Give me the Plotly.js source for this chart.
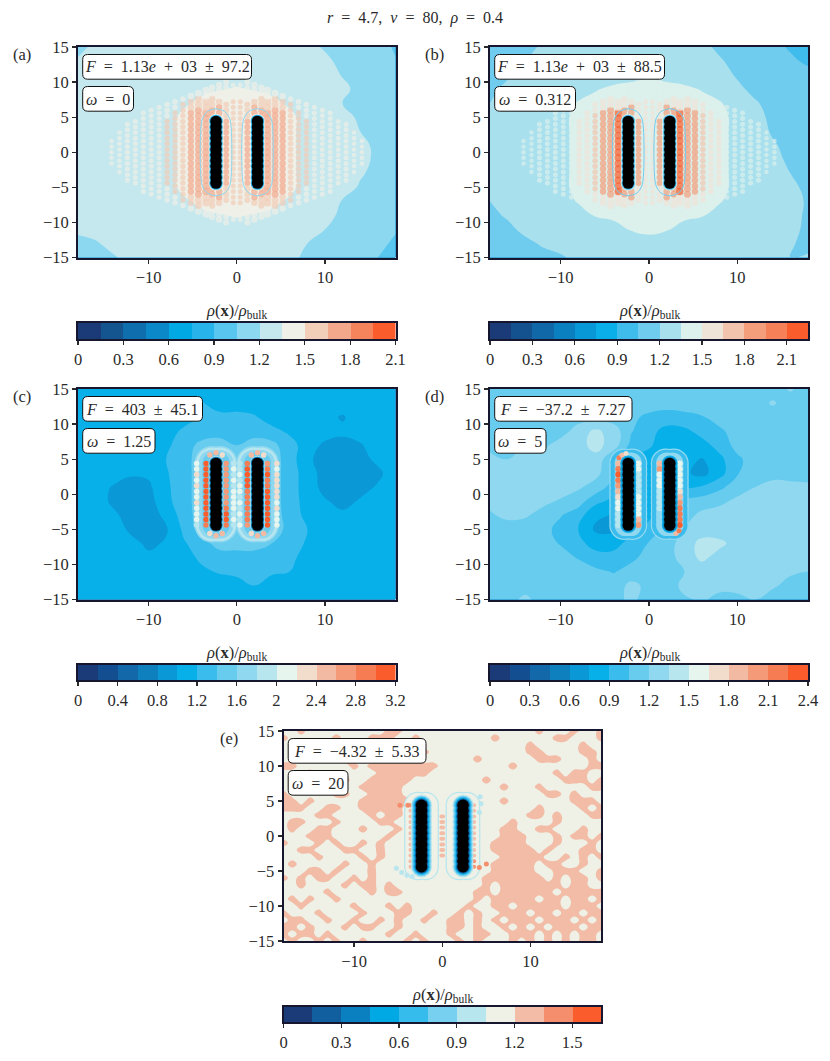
<!DOCTYPE html>
<html>
<head>
<meta charset="utf-8">
<script src="https://cdn.plot.ly/plotly-3.0.1.min.js"></script>
<style>body { margin: 0; background: #fff; }</style>
</head>
<body>
<div id="plot" style="width:830px;height:1061px"></div>
<script>
/////////////////////////////////////////////  data  /////////////////////////////////////////////////////////
var xGrid = [-18,-16,-14,-12,-10,-8,-6,-4,-2,0,2,4,6,8,10,12,14,16,18];
var yGrid = [15,13,11,9,7,5,3,1,-1,-3,-5,-7,-9,-11,-13,-15];
var xGridE = [-18,-17,-16,-15,-14,-13,-12,-11,-10,-9,-8,-7,-6,-5,-4,-3,-2,-1,0,1,2,3,4,5,6,7,8,9,10,11,12,13,14,15,16,17,18];
var yGridE = [15,14,13,12,11,10,9,8,7,6,5,4,3,2,1,0,-1,-2,-3,-4,-5,-6,-7,-8,-9,-10,-11,-12,-13,-14,-15];

var rhoA = [
[1.15,1.24,1.27,1.28,1.28,1.28,1.28,1.28,1.28,1.28,1.28,1.28,1.28,1.25,1.18,1.13,1.13,1.11,1.03],
[1.22,1.27,1.28,1.28,1.28,1.28,1.28,1.28,1.28,1.28,1.28,1.28,1.28,1.28,1.24,1.15,1.13,1.12,1.06],
[1.25,1.28,1.28,1.28,1.28,1.28,1.28,1.28,1.29,1.3,1.29,1.28,1.28,1.28,1.27,1.19,1.13,1.12,1.09],
[1.26,1.28,1.28,1.28,1.28,1.29,1.3,1.32,1.34,1.36,1.34,1.32,1.3,1.29,1.28,1.24,1.15,1.13,1.1],
[1.26,1.28,1.28,1.28,1.28,1.3,1.33,1.38,1.42,1.42,1.42,1.38,1.33,1.3,1.28,1.2,1.15,1.13,1.12],
[1.27,1.28,1.28,1.28,1.29,1.3,1.38,1.44,1.44,1.44,1.44,1.44,1.38,1.3,1.29,1.28,1.16,1.13,1.12],
[1.27,1.28,1.28,1.28,1.29,1.3,1.38,1.44,1.44,1.44,1.44,1.44,1.38,1.3,1.29,1.28,1.2,1.14,1.12],
[1.27,1.28,1.28,1.28,1.29,1.3,1.38,1.44,1.44,1.44,1.44,1.44,1.38,1.3,1.29,1.28,1.27,1.14,1.13],
[1.27,1.28,1.28,1.28,1.29,1.3,1.38,1.44,1.44,1.44,1.44,1.44,1.38,1.3,1.29,1.28,1.27,1.15,1.12],
[1.27,1.28,1.28,1.28,1.29,1.3,1.38,1.44,1.44,1.44,1.44,1.44,1.38,1.3,1.29,1.28,1.22,1.15,1.1],
[1.27,1.28,1.28,1.28,1.29,1.3,1.38,1.44,1.44,1.44,1.44,1.44,1.38,1.3,1.29,1.28,1.18,1.13,1.1],
[1.26,1.28,1.28,1.28,1.28,1.3,1.33,1.38,1.42,1.42,1.42,1.38,1.33,1.3,1.28,1.19,1.14,1.12,1.09],
[1.26,1.28,1.28,1.28,1.28,1.29,1.3,1.32,1.34,1.36,1.34,1.32,1.3,1.29,1.26,1.16,1.13,1.12,1.08],
[1.24,1.27,1.28,1.28,1.28,1.28,1.28,1.28,1.29,1.3,1.29,1.28,1.28,1.27,1.2,1.14,1.12,1.1,1.06],
[1.14,1.18,1.26,1.28,1.28,1.28,1.28,1.28,1.28,1.28,1.28,1.28,1.27,1.2,1.15,1.13,1.1,1.08,1.03],
[1.12,1.14,1.18,1.26,1.28,1.28,1.28,1.28,1.28,1.28,1.28,1.28,1.25,1.16,1.13,1.12,1.09,1.05,1.0]
];
var rhoB = [
[1.12,1.14,1.16,1.22,1.26,1.27,1.28,1.28,1.28,1.28,1.28,1.27,1.25,1.16,1.13,1.12,1.1,1.03,0.98],
[1.13,1.14,1.2,1.26,1.28,1.28,1.28,1.28,1.28,1.28,1.28,1.28,1.26,1.22,1.14,1.12,1.12,1.08,1.02],
[1.14,1.18,1.26,1.28,1.28,1.28,1.28,1.28,1.3,1.32,1.3,1.28,1.28,1.27,1.18,1.13,1.12,1.12,1.1],
[1.16,1.24,1.28,1.28,1.28,1.3,1.34,1.38,1.4,1.42,1.4,1.38,1.34,1.3,1.24,1.15,1.13,1.12,1.12],
[1.2,1.26,1.28,1.28,1.3,1.36,1.4,1.42,1.44,1.44,1.44,1.42,1.4,1.36,1.3,1.22,1.14,1.13,1.12],
[1.26,1.28,1.28,1.28,1.32,1.38,1.42,1.44,1.44,1.44,1.44,1.44,1.42,1.38,1.32,1.26,1.16,1.13,1.12],
[1.27,1.28,1.28,1.28,1.32,1.38,1.42,1.44,1.44,1.44,1.44,1.44,1.42,1.38,1.32,1.28,1.18,1.14,1.12],
[1.27,1.28,1.28,1.28,1.32,1.38,1.42,1.44,1.44,1.44,1.44,1.44,1.42,1.38,1.32,1.28,1.22,1.15,1.13],
[1.26,1.28,1.28,1.28,1.32,1.38,1.42,1.44,1.44,1.44,1.44,1.44,1.42,1.38,1.32,1.28,1.26,1.16,1.14],
[1.26,1.27,1.28,1.28,1.32,1.38,1.42,1.44,1.44,1.44,1.44,1.44,1.42,1.38,1.32,1.28,1.27,1.2,1.15],
[1.24,1.27,1.28,1.28,1.32,1.38,1.42,1.44,1.44,1.44,1.44,1.44,1.42,1.38,1.32,1.28,1.27,1.24,1.16],
[1.2,1.26,1.28,1.28,1.3,1.36,1.4,1.42,1.44,1.44,1.44,1.42,1.4,1.36,1.3,1.28,1.27,1.26,1.18],
[1.16,1.22,1.27,1.28,1.28,1.3,1.36,1.38,1.4,1.42,1.4,1.38,1.36,1.3,1.28,1.28,1.27,1.26,1.17],
[1.14,1.16,1.24,1.27,1.28,1.28,1.28,1.3,1.36,1.38,1.36,1.3,1.28,1.28,1.28,1.28,1.27,1.25,1.16],
[1.13,1.14,1.16,1.22,1.26,1.28,1.28,1.28,1.28,1.3,1.28,1.28,1.28,1.28,1.28,1.27,1.26,1.22,1.15],
[1.12,1.13,1.14,1.15,1.18,1.24,1.27,1.28,1.28,1.28,1.28,1.28,1.28,1.28,1.27,1.26,1.25,1.2,1.22]
];
var rhoC = [
[1.1,1.1,1.1,1.1,1.1,1.1,1.1,1.12,1.1,1.1,1.1,1.1,1.1,1.1,1.1,1.1,1.1,1.1,1.1],
[1.1,1.1,1.1,1.1,1.1,1.1,1.12,1.22,1.1,1.1,1.1,1.1,1.1,1.1,1.1,1.1,1.1,1.1,1.1],
[1.1,1.1,1.1,1.1,1.1,1.1,1.1,1.24,1.26,1.26,1.22,1.1,1.1,1.1,1.06,0.98,1.1,1.1,1.1],
[1.1,1.1,1.1,1.1,1.1,1.1,1.24,1.28,1.3,1.3,1.3,1.26,1.16,1.1,1.1,1.04,1.1,1.1,1.1],
[1.1,1.1,1.1,1.1,1.1,1.16,1.3,1.46,1.5,1.4,1.5,1.46,1.28,1.1,0.96,0.94,0.98,1.1,1.1],
[1.1,1.1,1.1,1.1,1.1,1.2,1.32,1.5,1.7,1.6,1.7,1.5,1.3,1.04,0.92,0.92,0.94,1.04,1.1],
[1.1,1.1,1.1,1.02,1.04,1.18,1.32,1.5,1.7,1.6,1.7,1.5,1.3,1.1,0.92,0.92,0.92,0.96,1.1],
[1.1,1.1,0.98,0.94,0.96,1.16,1.32,1.5,1.7,1.6,1.7,1.5,1.3,1.1,0.94,0.92,0.94,1.02,1.1],
[1.1,1.1,0.96,0.92,0.92,1.14,1.32,1.5,1.7,1.6,1.7,1.5,1.3,1.12,1.02,0.94,1.02,1.1,1.1],
[1.1,1.1,1.04,0.92,0.92,1.04,1.3,1.5,1.7,1.6,1.7,1.5,1.32,1.14,1.1,1.04,1.1,1.1,1.1],
[1.1,1.1,1.1,0.96,0.92,0.98,1.24,1.5,1.7,1.6,1.7,1.5,1.34,1.2,1.1,1.1,1.1,1.1,1.1],
[1.1,1.1,1.1,1.06,0.96,1.02,1.18,1.3,1.5,1.5,1.5,1.4,1.28,1.18,1.1,1.1,1.1,1.1,1.1],
[1.1,1.1,1.1,1.1,1.04,1.04,1.12,1.24,1.28,1.3,1.3,1.28,1.24,1.14,1.1,1.1,1.1,1.1,1.1],
[1.1,1.1,1.1,1.1,1.1,1.1,1.1,1.16,1.22,1.24,1.24,1.22,1.2,1.1,1.1,1.1,1.1,1.1,1.1],
[1.1,1.1,1.1,1.1,1.1,1.1,1.1,1.1,1.1,1.14,1.2,1.14,1.1,1.12,1.1,1.1,1.1,1.1,1.1],
[1.1,1.1,1.1,1.1,1.1,1.1,1.1,1.1,1.1,1.1,1.12,1.12,1.1,1.1,1.1,1.1,1.14,1.1,1.1]
];
var rhoD = [
[1.12,1.12,1.12,1.12,1.12,1.12,1.12,1.14,1.12,1.12,1.12,1.12,1.12,1.12,1.12,1.12,1.12,1.22,1.12],
[1.12,1.12,1.12,1.12,1.14,1.12,1.12,1.12,1.12,1.12,1.1,1.1,1.12,1.12,1.12,1.12,1.22,1.12,1.12],
[1.12,1.12,1.12,1.12,1.16,1.12,1.1,1.12,1.08,1.02,1.0,1.02,1.04,1.12,1.12,1.12,1.12,1.12,1.12],
[1.12,1.12,1.12,1.12,1.12,1.28,1.38,1.28,1.06,0.96,0.84,0.86,0.96,1.02,1.12,1.12,1.12,1.12,1.12],
[1.16,1.2,1.2,1.16,1.28,1.3,1.4,1.28,1.0,0.92,0.82,0.84,0.84,0.96,1.1,1.12,1.12,1.12,1.12],
[1.24,1.2,1.28,1.28,1.28,1.32,1.3,1.06,0.9,0.84,0.82,0.8,0.74,0.86,1.02,1.12,1.14,1.12,1.12],
[1.22,1.28,1.26,1.28,1.28,1.28,1.24,1.08,0.9,0.82,0.82,0.78,0.7,0.84,1.04,1.12,1.16,1.12,1.12],
[1.26,1.28,1.28,1.28,1.28,1.22,1.14,0.98,0.88,0.82,0.82,0.86,0.92,1.02,1.12,1.2,1.24,1.26,1.24],
[1.24,1.26,1.2,1.24,1.18,1.12,0.94,0.86,0.84,0.82,0.9,1.08,1.12,1.16,1.24,1.28,1.28,1.28,1.26],
[1.18,1.24,1.22,1.14,1.06,0.96,0.78,0.74,0.84,0.86,0.98,1.14,1.24,1.28,1.3,1.28,1.3,1.28,1.28],
[1.12,1.12,1.12,1.1,1.0,0.9,0.72,0.72,0.86,0.96,1.08,1.2,1.3,1.28,1.28,1.3,1.28,1.28,1.28],
[1.12,1.12,1.12,1.1,1.04,0.94,0.84,0.84,0.96,1.06,1.1,1.3,1.38,1.38,1.3,1.28,1.28,1.28,1.26],
[1.12,1.12,1.12,1.12,1.1,1.04,0.96,0.96,1.02,1.1,1.12,1.28,1.38,1.3,1.3,1.28,1.26,1.24,1.24],
[1.12,1.12,1.12,1.12,1.12,1.12,1.08,1.04,1.1,1.12,1.12,1.2,1.28,1.28,1.28,1.26,1.28,1.22,1.2],
[1.12,1.12,1.12,1.12,1.12,1.12,1.12,1.12,1.24,1.16,1.12,1.24,1.26,1.24,1.28,1.26,1.22,1.16,1.14],
[1.12,1.14,1.24,1.12,1.12,1.12,1.12,1.14,1.24,1.12,1.12,1.18,1.22,1.16,1.14,1.2,1.14,1.12,1.12]
];
var rhoE = [
[1.1,1.1,1.3,1.1,1.1,1.1,1.1,1.1,1.1, 1.1,1.1,1.1,1.3,1.3,1.1,1.1,1.1,1.1, 1.1, 1.1,1.1,1.1,1.1,1.1,1.1,1.1,1.1,1.1, 1.1,1.3,1.1,1.1,1.1,1.3,1.1,1.1,1.3],
[1.3,1.1,1.1,1.1,1.1,1.1,1.3,1.1,1.1, 1.1,1.3,1.3,1.3,1.1,1.1,1.3,1.1,1.1, 1.1, 1.1,1.1,1.1,1.1,1.1,1.3,1.1,1.1,1.1, 1.1,1.1,1.1,1.3,1.3,1.1,1.1,1.1,1.3],
[1.1,1.1,1.1,1.3,1.3,1.1,1.1,1.1,1.1, 1.3,1.1,1.1,1.1,1.1,1.3,1.3,1.1,1.1, 1.1, 1.1,1.1,1.1,1.1,1.1,1.1,1.1,1.1,1.1, 1.3,1.1,1.1,1.1,1.1,1.1,1.3,1.1,1.1],
[1.1,1.3,1.1,1.1,1.1,1.1,1.1,1.1,1.1, 1.1,1.1,1.1,1.3,1.1,1.3,1.3,1.3,1.1, 1.1, 1.1,1.1,1.1,1.1,1.1,1.1,1.1,1.1,1.1, 1.3,1.3,1.1,1.1,1.1,1.1,1.3,1.3,1.1],
[1.1,1.1,1.1,1.1,1.3,1.1,1.1,1.3,1.1, 1.1,1.1,1.3,1.3,1.3,1.3,1.3,1.1,1.1, 1.1, 1.1,1.1,1.1,1.3,1.1,1.1,1.1,1.1,1.1, 1.1,1.3,1.3,1.3,1.1,1.1,1.1,1.3,1.1],
[1.3,1.3,1.1,1.1,1.1,1.1,1.1,1.1,1.3, 1.1,1.3,1.3,1.3,1.3,1.3,1.3,1.3,1.3, 1.1, 1.1,1.1,1.1,1.1,1.1,1.1,1.1,1.3,1.1, 1.1,1.1,1.1,1.1,1.1,1.1,1.1,1.3,1.3],
[1.1,1.1,1.1,1.3,1.1,1.1,1.1,1.1,1.1, 1.1,1.1,1.3,1.3,1.3,1.3,1.3,1.3,1.1, 1.1, 1.1,1.1,1.1,1.1,1.1,1.1,1.1,1.1,1.1, 1.1,1.1,1.1,1.3,1.1,1.3,1.3,1.1,1.1],
[1.1,1.3,1.1,1.1,1.3,1.3,1.1,1.3,1.1, 1.1,1.3,1.3,1.3,1.3,1.3,1.1,1.1,1.1, 1.1, 1.1,1.1,1.1,1.1,1.3,1.1,1.1,1.1,1.1, 1.1,1.1,1.1,1.1,1.3,1.3,1.3,1.1,1.3],
[1.1,1.1,1.1,1.1,1.3,1.1,1.1,1.1,1.1, 1.3,1.3,1.3,1.3,1.3,1.1,1.1,1.1,1.1, 1.1, 1.1,1.1,1.1,1.1,1.1,1.1,1.3,1.1,1.1, 1.1,1.3,1.1,1.1,1.1,1.1,1.1,1.3,1.3],
[1.3,1.1,1.1,1.1,1.1,1.1,1.3,1.3,1.1, 1.1,1.3,1.3,1.3,1.3,1.1,1.1,1.1,1.1, 1.1, 1.1,1.1,1.1,1.1,1.1,1.1,1.1,1.1,1.1, 1.1,1.1,1.3,1.3,1.1,1.3,1.1,1.1,1.1],
[1.3,1.3,1.1,1.3,1.1,1.1,1.1,1.1,1.1, 1.3,1.3,1.3,1.3,1.3,1.3,1.1,1.1,1.1, 1.1, 1.1,1.1,1.1,1.1,1.1,1.1,1.3,1.1,1.1, 1.1,1.1,1.1,1.1,1.1,1.3,1.3,1.3,1.1],
[1.3,1.3,1.3,1.1,1.1,1.3,1.3,1.1,1.1, 1.3,1.3,1.3,1.3,1.3,1.1,1.1,1.1,1.1, 1.1, 1.1,1.1,1.1,1.1,1.1,1.1,1.1,1.1,1.1, 1.1,1.3,1.1,1.1,1.1,1.1,1.3,1.1,1.3],
[1.1,1.1,1.1,1.1,1.3,1.3,1.1,1.1,1.1, 1.1,1.3,1.1,1.3,1.3,1.1,1.1,1.1,1.1, 1.1, 1.1,1.1,1.1,1.1,1.1,1.1,1.1,1.1,1.1, 1.3,1.3,1.1,1.3,1.1,1.1,1.1,1.3,1.3],
[1.1,1.3,1.3,1.1,1.1,1.1,1.3,1.1,1.1, 1.1,1.1,1.3,1.3,1.1,1.1,1.1,1.1,1.1, 1.1, 1.1,1.1,1.1,1.1,1.1,1.1,1.1,1.3,1.1, 1.1,1.1,1.1,1.3,1.1,1.1,1.1,1.1,1.1],
[1.1,1.3,1.1,1.1,1.3,1.3,1.1,1.1,1.1, 1.3,1.1,1.1,1.1,1.3,1.1,1.1,1.1,1.1, 1.1, 1.1,1.1,1.1,1.1,1.1,1.1,1.3,1.3,1.1, 1.1,1.3,1.3,1.1,1.1,1.1,1.3,1.1,1.1],
[1.1,1.1,1.1,1.3,1.3,1.3,1.1,1.1,1.1, 1.1,1.1,1.1,1.3,1.1,1.1,1.1,1.1,1.1, 1.1, 1.1,1.1,1.1,1.1,1.1,1.1,1.3,1.3,1.3, 1.1,1.1,1.1,1.3,1.1,1.3,1.3,1.1,1.3],
[1.3,1.1,1.1,1.1,1.3,1.1,1.3,1.1,1.1, 1.3,1.1,1.3,1.1,1.1,1.1,1.1,1.1,1.1, 1.1, 1.1,1.1,1.1,1.1,1.1,1.3,1.3,1.3,1.3, 1.1,1.1,1.1,1.3,1.1,1.1,1.1,1.3,1.1],
[1.1,1.1,1.3,1.3,1.1,1.1,1.1,1.3,1.3, 1.1,1.1,1.3,1.1,1.1,1.1,1.1,1.1,1.1, 1.1, 1.1,1.1,1.1,1.1,1.1,1.3,1.3,1.3,1.3, 1.3,1.1,1.3,1.1,1.1,1.1,1.3,1.3,1.1],
[1.1,1.1,1.1,1.1,1.3,1.1,1.1,1.1,1.1, 1.3,1.1,1.3,1.1,1.1,1.1,1.1,1.1,1.1, 1.1, 1.1,1.1,1.1,1.1,1.1,1.1,1.3,1.3,1.3, 1.3,1.3,1.1,1.1,1.3,1.1,1.3,1.1,1.3],
[1.1,1.3,1.1,1.1,1.1,1.1,1.1,1.3,1.1, 1.1,1.3,1.1,1.1,1.1,1.1,1.1,1.1,1.1, 1.1, 1.1,1.1,1.1,1.1,1.1,1.3,1.3,1.3,1.3, 1.3,1.1,1.3,1.3,1.1,1.1,1.3,1.1,1.1],
[1.1,1.1,1.1,1.3,1.3,1.1,1.3,1.1,1.1, 1.1,1.3,1.1,1.1,1.1,1.1,1.1,1.1,1.1, 1.1, 1.1,1.1,1.1,1.1,1.1,1.3,1.3,1.3,1.3, 1.3,1.1,1.1,1.3,1.3,1.3,1.1,1.1,1.3],
[1.3,1.1,1.3,1.1,1.3,1.3,1.1,1.1,1.3, 1.1,1.3,1.1,1.1,1.1,1.1,1.1,1.1,1.1, 1.1, 1.1,1.1,1.1,1.1,1.3,1.3,1.3,1.3,1.3, 1.3,1.3,1.1,1.3,1.1,1.3,1.3,1.1,1.3],
[1.1,1.1,1.3,1.1,1.1,1.1,1.1,1.3,1.1, 1.3,1.3,1.1,1.3,1.1,1.1,1.1,1.1,1.1, 1.1, 1.1,1.1,1.1,1.1,1.3,1.1,1.3,1.3,1.3, 1.3,1.3,1.3,1.3,1.1,1.3,1.3,1.1,1.1],
[1.1,1.1,1.1,1.1,1.1,1.3,1.1,1.1,1.1, 1.1,1.3,1.1,1.3,1.3,1.1,1.1,1.1,1.1, 1.1, 1.1,1.1,1.1,1.3,1.3,1.1,1.3,1.3,1.3, 1.3,1.3,1.3,1.1,1.3,1.3,1.3,1.3,1.3],
[1.1,1.3,1.1,1.3,1.1,1.1,1.3,1.1,1.1, 1.1,1.1,1.1,1.1,1.1,1.1,1.1,1.1,1.1, 1.1, 1.1,1.1,1.1,1.3,1.1,1.3,1.3,1.3,1.3, 1.3,1.1,1.3,1.3,1.1,1.3,1.3,1.1,1.3],
[1.1,1.1,1.3,1.1,1.1,1.1,1.1,1.1,1.3, 1.1,1.1,1.1,1.3,1.1,1.3,1.1,1.1,1.1, 1.1, 1.1,1.1,1.3,1.1,1.1,1.3,1.3,1.1,1.3, 1.3,1.3,1.3,1.3,1.1,1.3,1.3,1.3,1.1],
[1.3,1.1,1.1,1.1,1.3,1.1,1.1,1.1,1.1, 1.3,1.1,1.1,1.1,1.3,1.3,1.1,1.1,1.3, 1.1, 1.1,1.3,1.1,1.3,1.1,1.1,1.3,1.3,1.3, 1.1,1.3,1.3,1.1,1.3,1.3,1.1,1.3,1.3],
[1.1,1.3,1.3,1.1,1.1,1.3,1.1,1.1,1.3, 1.1,1.1,1.3,1.1,1.3,1.1,1.1,1.3,1.1, 1.1, 1.3,1.3,1.1,1.3,1.1,1.3,1.1,1.3,1.3, 1.3,1.1,1.3,1.3,1.3,1.1,1.3,1.1,1.3],
[1.3,1.3,1.1,1.3,1.1,1.1,1.1,1.3,1.1, 1.3,1.3,1.1,1.1,1.3,1.1,1.1,1.1,1.1, 1.1, 1.3,1.3,1.1,1.3,1.1,1.1,1.3,1.1,1.3, 1.1,1.3,1.1,1.3,1.3,1.3,1.1,1.3,1.3],
[1.3,1.1,1.3,1.3,1.1,1.3,1.1,1.1,1.1, 1.1,1.1,1.1,1.3,1.1,1.1,1.3,1.1,1.1, 1.1, 1.3,1.1,1.1,1.3,1.3,1.1,1.1,1.3,1.3, 1.3,1.1,1.3,1.1,1.3,1.1,1.3,1.3,1.1],
[1.1,1.3,1.1,1.1,1.3,1.1,1.3,1.1,1.1, 1.3,1.1,1.1,1.1,1.1,1.3,1.1,1.3,1.1, 1.1, 1.1,1.3,1.1,1.3,1.1,1.1,1.1,1.3,1.1, 1.3,1.1,1.3,1.1,1.3,1.1,1.3,1.3,1.1]
];

// rods and the density peaks next to them
var rodX = [-2.35, 2.35];
var beadY = [-4.4,-3.6,-2.8,-2,-1.2,-0.4,0.4,1.2,2,2.8,3.6,4.4];
var latticeEven = [-10.4,-9.6,-8.8,-8,-7.2,-6.4,-5.6,-4.8,-4,-3.2,-2.4,-1.6,-0.8,0,0.8,1.6,2.4,3.2,4,4.8,5.6,6.4,7.2,8,8.8,9.6,10.4];
var latticeOdd = [-10,-9.2,-8.4,-7.6,-6.8,-6,-5.2,-4.4,-3.6,-2.8,-2,-1.2,-0.4,0.4,1.2,2,2.8,3.6,4.4,5.2,6,6.8,7.6,8.4,9.2,10];

var peakColsX = [0.4,1.2,2,2.8,3.48,4.35,5.2,6.1,7,7.9,8.8,9.7,10.6,11.5,12.4,13.3,14.2];
var peakTopA = [4,5,6.4,6.4,6.2,6.4,6.2,5.6,4.8,3.2,0,0,0,0,0,0,0];
var peakCapA = [7.6,6.8,7.6,7.6,7.4,7.6,7.2,6.8,6,5,0,0,0,0,0,0,0];
var peakOutA = [10.2,10,9.6,9.4,9.2,9,8.6,8.2,7.8,7.4,7,6.4,5.8,5,4.2,3,1.8];
var peakRhoA = [1.58,1.7,1.7,1.7,1.78,1.72,1.67,1.58,1.55,1.52,1.42,1.42,1.42,1.42,1.42,1.42,1.42];
var peakRhoB = [1.6,1.82,1.8,1.8,2.15,1.85,1.8,1.68,1.6,1.55,1.4,1.4,1.4,1.4,1.38,1.38,1.38];

var dotColsC = [-4.55,-3.48,-1.2,-0.35,0.35,1.2,3.48,4.55];
var dotRhoC = [
[2.0,2.1,2.2,2.1,2.2,2.1,2.0,2.2,2.1,2.0,2.0,1.9],
[3.0,3.1,3.1,3.1,3.1,3.1,3.1,3.1,3.1,3.0,3.0,2.9],
[2.7,2.7,2.6,2.7,2.7,2.7,2.8,2.8,2.9,3.0,3.0,2.9],
[1.9,2.0,1.9,2.1,1.9,2.0,2.1,2.0,2.1,1.9,2.0,1.9],
[1.9,1.9,2.0,1.9,2.1,2.0,1.9,2.1,1.9,2.0,1.9,2.0],
[2.9,3.0,3.0,3.0,3.0,2.9,2.9,2.9,2.9,2.9,2.9,2.8],
[2.7,2.9,3.0,2.9,2.9,3.0,3.0,3.0,3.0,3.1,3.1,3.0],
[2.2,2.1,2.2,2.2,2.3,2.3,2.2,2.1,2.2,2.1,2.1,2.0]
];
var dotColsD = [-3.48,-1.2,1.2,3.48];
var dotRhoD = [
[1.9,2.2,2.3,2.2,2.0,1.9,1.65,1.55,1.5,1.45,1.4,1.35],
[1.5,1.5,1.45,1.45,1.45,1.4,1.5,1.5,1.55,1.6,1.9,2.05],
[1.9,1.95,1.6,1.5,1.5,1.4,1.4,1.35,1.35,1.3,1.3,1.2],
[1.5,1.5,1.55,1.55,1.6,1.65,1.85,2.05,2.15,2.1,2.2,2.25]
];
var dotColsE = [-3.6,3.6,-0.1,0.1];
var dotRhoE = [
[1.38,1.28,1.25,1.25,1.25,1.25,1.25,1.25,1.25,1.25,1.25,1.25],
[1.25,1.25,1.25,1.25,1.25,1.25,1.25,1.25,1.25,1.28,1.38,1.4],
[1.1,1.1,1.28,1.28,1.28,1.28,1.28,1.28,1.28,1.28,1.1,1.1],
[1.1,1.1,1.28,1.28,1.28,1.28,1.28,1.28,1.28,1.28,1.1,1.1]
];
// arcs of density over the rod ends
var arcCX = [-3.05,-2.35,-1.65,1.65,2.35,3.05,-3.05,-2.35,-1.65,1.65,2.35,3.05];
var arcCY = [5.6,5.9,5.6,5.6,5.9,5.6,-5.6,-5.9,-5.6,-5.6,-5.9,-5.6];
var arcCRho = [2.5,2.5,2.3,2.5,2.5,2.3,2.3,2.5,2.5,2.3,2.5,2.5];
var arcDX = [-3.4,-3.05,-2.6,3.05,3.4];
var arcDY = [5.2,5.6,5.8,-5.6,-5.2];
var arcDRho = [2.1,1.9,1.7,1.9,2.1];
var hotX = [-4.8,-3.9,4.2,5,-5.2,-4.6,-4,-3.4,4.3,4.4,4.2];
var hotY = [4.4,4.4,-4.5,-4,-4.6,-5.2,-5.6,-5.8,5.6,4.6,3.4];
var hotRho = [1.42,1.42,1.42,1.42,0.98,0.98,0.98,0.98,0.98,0.98,0.98];

// capsule ring seen around the rods of (a) and (b), relative to the rod axis
var ringDx = [-1.6,-1.6,-1,0,1,1.6,1.6,1,0,-1,-1.6];
var ringDy = [-4.6,4.6,5.8,6.2,5.8,4.6,-4.6,-5.8,-6.2,-5.8,-4.6];

// colour bands of each colorbar, low to high
var bandsA = ['#1a3a78','#14558f','#0f6fae','#0a88c8','#00a8e4','#28b4ea','#58c6ee','#8cd8f0','#c4e8ee','#eff0e8','#f2cdb8','#f3a88c','#f5845c','#fa5c2c'];
var bandsB = ['#1a3a78','#14528f','#1068a8','#0a80c0','#0898d8','#0aaee8','#40bcec','#70ccee','#a8e0ee','#dcf0ec','#efe4d8','#f2c4ae','#f49e7c','#f68058','#fa5c2c'];
var bandsC = ['#1a3a78','#134f90','#1268a8','#0e80bd','#0a98d6','#08b0ea','#3abcec','#68ccee','#90d8f0','#b8e6ee','#e6f5ee','#f2dccc','#f3baa3','#f59a78','#f67c54','#fa5c2c'];
var bandsE = ['#1a3a78','#115f9f','#0a80c0','#00a8e4','#36bcec','#78d0f0','#b8e6ee','#eff0e6','#f2bca6','#f48e6c','#fa5c2c'];

var ticksA = [0,0.3,0.6,0.9,1.2,1.5,1.8,2.1];
var ticksB = [0,0.3,0.6,0.9,1.2,1.5,1.8,2.1];
var ticksC = [0,0.4,0.8,1.2,1.6,2,2.4,2.8,3.2];
var ticksD = [0,0.3,0.6,0.9,1.2,1.5,1.8,2.1,2.4];
var ticksE = [0,0.3,0.6,0.9,1.2,1.5];

var ES = '\u2002';
var forceText = [
  '<i>F</i>' + ES + '=' + ES + '1.13<i>e</i>' + ES + '+' + ES + '03' + ES + '±' + ES + '97.2',
  '<i>F</i>' + ES + '=' + ES + '1.13<i>e</i>' + ES + '+' + ES + '03' + ES + '±' + ES + '88.5',
  '<i>F</i>' + ES + '=' + ES + '403' + ES + '±' + ES + '45.1',
  '<i>F</i>' + ES + '=' + ES + '−37.2' + ES + '±' + ES + '7.27',
  '<i>F</i>' + ES + '=' + ES + '−4.32' + ES + '±' + ES + '5.33'
];
var omegaText = ['0','0.312','1.25','5','20'].map(function (w) { return '<i>ω</i>' + ES + '=' + ES + w; });
var panelText = ['(a)','(b)','(c)','(d)','(e)'];

/////////////////////////////////////////////  layout in pixels  /////////////////////////////////////////////////////////
var W = 830, H = 1061;
var SERIF = '"Liberation Serif", "DejaVu Serif", serif';
var DARK = '#16162e', INK = '#2a2a2a';
var LABEL = 16.5;

// [left, right, top, bottom, colorbar top, colorbar bottom, F box right, omega box right, label x]
var boxes = [
  [78, 395.5, 47, 257.5, 323, 339, 251.5, 133.5, 22],
  [490, 808, 47, 257.5, 323, 339, 664.5, 575.5, 434],
  [78, 395.5, 389, 599.5, 664.5, 680, 202.5, 155, 22],
  [490, 808, 389, 599.5, 664.5, 680, 632, 546, 434],
  [283.5, 601, 731, 941, 1006.5, 1022, 426, 348, 229]
];
var peakSizes = [5,6,6.5,6.5,7.5,7,6.5,5.5,5.5,5.5,5,5,5,5,5,4.5,4.5];

function px(x) { return x / W; }
function py(y) { return 1 - y / H; }

function roundBox(x0, y0, x1, y1) {
  var r = 5;
  var p = function (x, y) { return px(x) + ',' + py(y); };
  return {
    type: 'path', xref: 'paper', yref: 'paper', fillcolor: '#fff',
    line: { color: '#111', width: 1 },
    path: 'M' + p(x0 + r, y0) + ' L' + p(x1 - r, y0) + ' Q' + p(x1, y0) + ' ' + p(x1, y0 + r) +
      ' L' + p(x1, y1 - r) + ' Q' + p(x1, y1) + ' ' + p(x1 - r, y1) +
      ' L' + p(x0 + r, y1) + ' Q' + p(x0, y1) + ' ' + p(x0, y1 - r) +
      ' L' + p(x0, y0 + r) + ' Q' + p(x0, y0) + ' ' + p(x0 + r, y0) + ' Z'
  };
}

/////////////////////////////////////////////  marks  /////////////////////////////////////////////////////////
function bandColor(rho, bands, step) {
  var i = Math.floor(rho / step);
  return bands[Math.max(0, Math.min(bands.length - 1, i))];
}

// step colorscale that lands on the band colours at the centre of each contour band
function stepScale(bands) {
  var nc = bands.length + 1;
  var scale = [[0, bands[0]]];
  for (var k = 0; k < bands.length; k++) { scale.push([(k + 1) / nc, bands[k]]); }
  scale.push([1, bands[bands.length - 1]]);
  return scale;
}

function markerTrace(xs, ys, size, color, n) {
  return { type: 'scatter', mode: 'markers', x: xs, y: ys, xaxis: 'x' + n, yaxis: 'y' + n, hoverinfo: 'skip',
    marker: { size: size, color: color, line: { width: 0 } } };
}

function rodTrace(dx, size, color, n) {
  var xs = [], ys = [];
  rodX.forEach(function (x0) {
    var offsets = dx ? [-dx, dx] : [0];
    offsets.forEach(function (d) {
      beadY.forEach(function (y) { xs.push(x0 + d); ys.push(y); });
    });
  });
  return markerTrace(xs, ys, size, color, n);
}

function ringTrace(dxs, dys, color, width, n) {
  var xs = [], ys = [];
  rodX.forEach(function (x0) {
    dxs.forEach(function (d, i) { xs.push(x0 + d); ys.push(dys[i]); });
    xs.push(null); ys.push(null);
  });
  return { type: 'scatter', mode: 'lines', x: xs, y: ys, xaxis: 'x' + n, yaxis: 'y' + n, hoverinfo: 'skip',
    line: { color: color, width: width, shape: 'spline', smoothing: 0.7 } };
}

function latticeTrace(top, cap, out, rho, capRho, outRho, bands, step, n) {
  var xs = [], ys = [], cs = [], ss = [];
  peakColsX.forEach(function (x, i) {
    var rows = i % 2 ? latticeOdd : latticeEven;
    [-x, x].forEach(function (xc) {
      rows.forEach(function (y) {
        var a = Math.abs(y);
        if (a > out[i] && a > cap[i]) { return; }
        xs.push(xc); ys.push(y); ss.push(peakSizes[i]);
        var r = a <= top[i] ? rho[i] : (a <= cap[i] ? capRho : outRho);
        cs.push(bandColor(r, bands, step));
      });
    });
  });
  return markerTrace(xs, ys, ss, cs, n);
}

function dotTrace(colsX, rhos, bands, step, size, n) {
  var xs = [], ys = [], cs = [];
  colsX.forEach(function (x, i) {
    rhos[i].forEach(function (r, j) {
      xs.push(x); ys.push(beadY[beadY.length - 1 - j]);
      cs.push(bandColor(r, bands, step));
    });
  });
  return markerTrace(xs, ys, size, cs, n);
}

function listTrace(xs, ys, rhos, bands, step, size, n) {
  return markerTrace(xs, ys, size, rhos.map(function (r) { return bandColor(r, bands, step); }), n);
}

function fieldTrace(xg, yg, z, bands, step, n) {
  return {
    type: 'contour', x: xg, y: yg, z: z, xaxis: 'x' + n, yaxis: 'y' + n, hoverinfo: 'skip',
    autocontour: false, showscale: false,
    contours: { start: 0, end: step * bands.length, size: step, coloring: 'fill', showlines: false },
    line: { width: 0, smoothing: 1.3 },
    colorscale: stepScale(bands)
  };
}

// colorbars are small heatmaps on their own axes: one cell per band
function barTrace(bands, step, n) {
  var centers = bands.map(function (c, k) { return (k + 0.5) * step; });
  var idx = bands.map(function (c, k) { return k; });
  var scale = bands.map(function (c, k) { return [k / (bands.length - 1), c]; });
  return { type: 'heatmap', x: centers, y: [0], z: [idx], zmin: 0, zmax: bands.length - 1, colorscale: scale,
    showscale: false, xaxis: 'x' + (n + 5), yaxis: 'y' + (n + 5), hoverinfo: 'skip' };
}

var traces = [];
var STEP = [0.15, 0.15, 0.2, 0.15, 0.15];
var ALLBANDS = [bandsA, bandsB, bandsC, bandsC, bandsE];
var ALLTICKS = [ticksA, ticksB, ticksC, ticksD, ticksE];

// (a)
traces.push(fieldTrace(xGrid, yGrid, rhoA, bandsA, STEP[0], 1));
traces.push(rodTrace(0.2, 24, bandsA[9], 1));
traces.push(latticeTrace(peakTopA, peakCapA, peakOutA, peakRhoA, 1.56, 1.42, bandsA, STEP[0], 1));
traces.push(ringTrace(ringDx, ringDy, bandsA[7], 1, 1));
traces.push(rodTrace(0, 15, bandsA[9], 1));
traces.push(rodTrace(0, 13.5, bandsA[5], 1));
traces.push(rodTrace(0, 11.5, '#000', 1));
// (b)
traces.push(fieldTrace(xGrid, yGrid, rhoB, bandsB, STEP[1], 2));
traces.push(rodTrace(0.2, 24, bandsB[9], 2));
traces.push(latticeTrace(peakTopA, peakCapA, peakOutA, peakRhoB, 1.58, 1.4, bandsB, STEP[1], 2));
traces.push(ringTrace(ringDx, ringDy, bandsB[7], 1, 2));
traces.push(rodTrace(0, 15, bandsB[9], 2));
traces.push(rodTrace(0, 13.5, bandsB[6], 2));
traces.push(rodTrace(0, 11.5, '#000', 2));
// (c)
traces.push(fieldTrace(xGrid, yGrid, rhoC, bandsC, STEP[2], 3));
traces.push(rodTrace(0.45, 35, bandsC[8], 3));
traces.push(rodTrace(0.45, 32, bandsC[9], 3));
traces.push(rodTrace(0.45, 27, bandsC[8], 3));
traces.push(rodTrace(0.3, 22, bandsC[7], 3));
traces.push(listTrace(arcCX, arcCY, arcCRho, bandsC, STEP[2], 5.5, 3));
traces.push(dotTrace(dotColsC, dotRhoC, bandsC, STEP[2], 5.5, 3));
traces.push(rodTrace(0, 15, bandsC[9], 3));
traces.push(rodTrace(0, 13.5, bandsC[3], 3));
traces.push(rodTrace(0, 11.5, '#000', 3));
// (d)
traces.push(fieldTrace(xGrid, yGrid, rhoD, bandsC, STEP[3], 4));
traces.push(rodTrace(0.45, 30, bandsC[8], 4));
traces.push(rodTrace(0.45, 27.5, bandsC[6], 4));
traces.push(rodTrace(0.3, 22, bandsC[8], 4));
traces.push(listTrace(arcDX, arcDY, arcDRho, bandsC, STEP[3], 5, 4));
traces.push(dotTrace(dotColsD, dotRhoD, bandsC, STEP[3], 6, 4));
traces.push(rodTrace(0, 16, bandsC[5], 4));
traces.push(rodTrace(0, 13.5, bandsC[3], 4));
traces.push(rodTrace(0, 11.5, '#000', 4));
// (e)
traces.push(fieldTrace(xGridE, yGridE, rhoE, bandsE, STEP[4], 5));
traces.push(rodTrace(0.45, 27, bandsE[6], 5));
traces.push(rodTrace(0.45, 24.5, bandsE[7], 5));
traces.push(dotTrace(dotColsE, dotRhoE, bandsE, STEP[4], 4, 5));
traces.push(listTrace(hotX, hotY, hotRho, bandsE, STEP[4], 5, 5));
traces.push(rodTrace(0, 21, bandsE[6], 5));
traces.push(rodTrace(0, 19, bandsE[5], 5));
traces.push(rodTrace(0, 17, bandsE[4], 5));
traces.push(rodTrace(0, 15, bandsE[3], 5));
traces.push(rodTrace(0, 13.5, bandsE[1], 5));
traces.push(rodTrace(0, 11.5, '#000', 5));
for (var n = 1; n <= 5; n++) { traces.push(barTrace(ALLBANDS[n - 1], STEP[n - 1], n)); }

/////////////////////////////////////////////  layout  /////////////////////////////////////////////////////////
var layout = {
  width: W, height: H, margin: { l: 0, r: 0, t: 0, b: 0, autoexpand: false },
  paper_bgcolor: '#fff', plot_bgcolor: '#fff', showlegend: false,
  shapes: [], annotations: []
};

function addText(x, y, text, size) {
  layout.annotations.push({ xref: 'paper', yref: 'paper', x: px(x), y: py(y), text: text, showarrow: false,
    xanchor: 'center', yanchor: 'middle', font: { family: SERIF, size: size, color: INK } });
}

boxes.forEach(function (b, i) {
  var n = i + 1;
  var axisCommon = {
    showgrid: false, zeroline: false, showline: true, mirror: true, linecolor: DARK, linewidth: 2,
    ticks: 'outside', ticklen: 4, tickwidth: 1.2, tickcolor: INK,
    tickfont: { family: SERIF, size: LABEL, color: INK }
  };
  layout['xaxis' + n] = Object.assign({}, axisCommon, {
    domain: [px(b[0]), px(b[1])], range: [-18, 18], anchor: 'y' + n, tickmode: 'array', tickvals: [-10, 0, 10]
  });
  layout['yaxis' + n] = Object.assign({}, axisCommon, {
    domain: [py(b[3]), py(b[2])], range: [-15, 15], anchor: 'x' + n, tickmode: 'array', tickvals: [-15, -10, -5, 0, 5, 10, 15]
  });
  // colorbar axes
  var bn = n + 5;
  layout['xaxis' + bn] = Object.assign({}, axisCommon, {
    domain: [px(b[0]), px(b[1])], range: [0, STEP[i] * ALLBANDS[i].length], anchor: 'y' + bn,
    tickmode: 'array', tickvals: ALLTICKS[i], ticktext: ALLTICKS[i].map(String)
  });
  layout['yaxis' + bn] = Object.assign({}, axisCommon, {
    domain: [py(b[5]), py(b[4])], range: [-0.5, 0.5], anchor: 'x' + bn, ticks: '', showticklabels: false
  });

  var boxX = b[0] + 4.7, top = b[2] + 7.5;
  layout.shapes.push(roundBox(boxX, top, b[6], top + 24.7));
  layout.shapes.push(roundBox(boxX, top + 32, b[7], top + 56.7));
  addText((boxX + b[6]) / 2, top + 12.5, forceText[i], 16);
  addText((boxX + b[7]) / 2, top + 44.5, omegaText[i], 16);
  addText(b[8], b[2] + 7.5, panelText[i], LABEL);
  addText((b[0] + b[1]) / 2, b[4] - 12, '<i>ρ</i>(<b>x</b>)/<i>ρ</i><sub>bulk</sub>', 16.5);
});
addText(415, 18, '<i>r</i>' + ES + '=' + ES + '4.7,' + ES + '<i>v</i>' + ES + '=' + ES + '80,' + ES + '<i>ρ</i>' + ES + '=' + ES + '0.4', 16);

Plotly.newPlot('plot', traces, layout, { displayModeBar: false, staticPlot: true });
</script>
</body>
</html>
